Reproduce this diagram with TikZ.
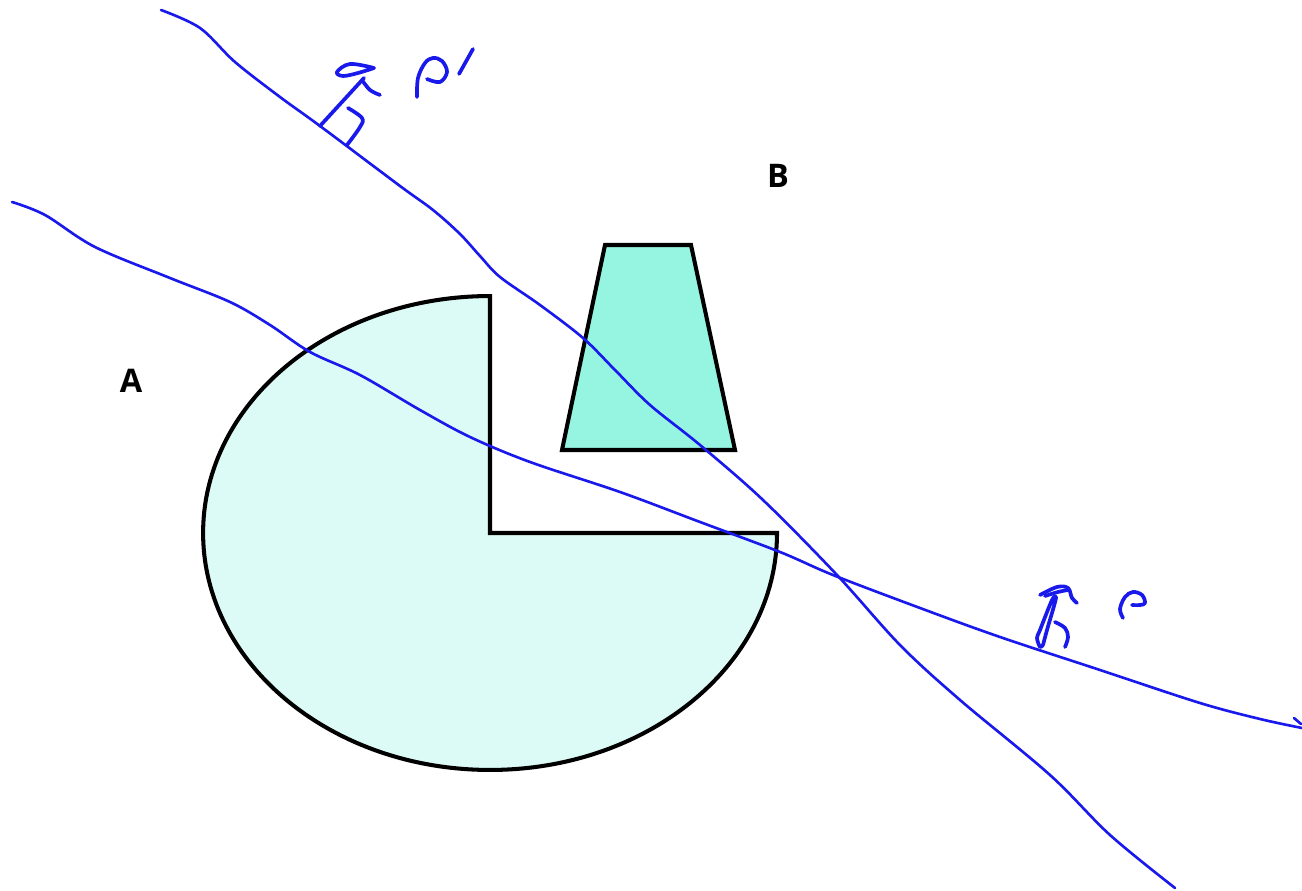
\documentclass[tikz,border=0pt]{standalone}
\usepackage{fontspec}
\setsansfont{Open Sans}
\definecolor{pen}{RGB}{25,25,235}
\definecolor{fillA}{RGB}{221,251,246}
\definecolor{fillB}{RGB}{150,245,225}
\tikzset{
  ray/.style={draw=pen, line width=1.5pt, line cap=round, line join=round},
  ink/.style={draw=pen, line width=2.1pt, line cap=round, line join=round},
  solid shape/.style={draw=black, line width=2.3pt, line join=miter},
  lab/.style={font=\sffamily\bfseries\fontsize{18.5}{22}\selectfont, text=black, inner sep=0pt}
}
\begin{document}
\begin{tikzpicture}[x=0.02cm,y=-0.02cm]
\useasboundingbox (0,0) rectangle (1302,891);
% shape A
\path[solid shape, fill=fillA] (490,297) -- (490,533) -- (777,533)
  arc[start angle=0, end angle=-270, x radius=5.74cm, y radius=4.74cm] -- cycle;
% shape B
\path[solid shape, fill=fillB] (605,245) -- (691,245) -- (735,450) -- (562,450) -- cycle;
% labels
\node[lab] (A) at (131,381) {A};
\node[lab] (B) at (778,176) {B};
% upper ray
\draw[ray] plot[smooth, tension=0.55] coordinates {(161,10) (200,28) (235,62) (280,97) (320,126) (400,186) (433,210) (460,234) (480,256) (500,277) (540,305) (583,338) (615,370) (650,405) (700,445) (763,500) (837,575) (900,645) (960,700) (1050,775) (1110,835) (1175,888)};
% lower ray
\draw[ray] plot[smooth, tension=0.55] coordinates {(12,202) (45,215) (95,247) (170,278) (230,302) (270,325) (310,352) (360,375) (420,410) (470,437) (530,462) (620,492) (700,522) (780,552) (833,575) (920,608) (1000,637) (1100,670) (1200,703) (1260,719) (1302,728)};
\draw[ray] (1294,718) -- (1301,724);
% upper normal and annotation
\draw[ink] (320,126) -- (364,78);
\draw[ink] plot[smooth, tension=0.6] coordinates {(374,68) (350,64) (337,72) (343,76) (358,73) (374,68)};
\draw[ink] plot[smooth, tension=0.6] coordinates {(362,80) (370,90) (380,95)};
\draw[ink] plot[smooth, tension=0.6] coordinates {(348,108) (362,118) (360,127) (347,145)};
\draw[ink] plot[smooth, tension=0.6] coordinates {(417,97) (418,78) (425,63) (433,58) (442,61) (447,72) (440,82) (427,79)};
\draw[ink] (473,49) -- (459,74);
% lower normal and annotation
\draw[ink] plot[smooth, tension=0.5] coordinates {(1043,645) (1040,647) (1037,638) (1040,630) (1052,600) (1056,597) (1054,606) (1047,630) (1043,645)};
\draw[ink] plot[smooth, tension=0.6] coordinates {(1040,595) (1057,587) (1068,588) (1072,598) (1077,603)};
\draw[ink] plot[smooth, tension=0.6] coordinates {(1068,590) (1058,592) (1045,596)};
\draw[ink] plot[smooth, tension=0.6] coordinates {(1055,622) (1065,628) (1068,637) (1065,647)};
\draw[ink] plot[smooth, tension=0.6] coordinates {(1123,618) (1120,609) (1125,597) (1133,592) (1142,595) (1145,603) (1140,605) (1132,605)};
\end{tikzpicture}
\end{document}
